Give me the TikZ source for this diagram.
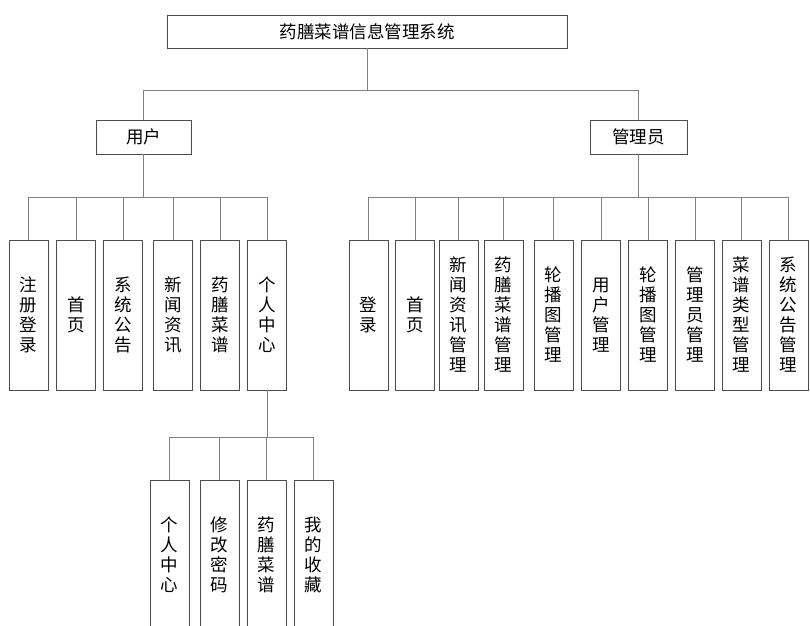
\documentclass[tikz,border=0pt]{standalone}
\usepackage{fontspec}
\setmainfont{Noto Sans CJK SC}
\usepackage{tikz}

\begin{document}
\begin{tikzpicture}[x=1pt,y=-1pt,
  box/.style={draw=black!70,fill=white,line width=.9pt,inner sep=0pt,align=center,
              font=\fontsize{17.5}{20}\selectfont},
  hbox/.style={box,minimum height=34pt},
  vbox/.style={box,minimum width=39pt,minimum height=150pt},
  link/.style={draw=black!50,line width=.9pt}]
  \useasboundingbox (0,0) rectangle (810,625);
  \clip (0,0) rectangle (810,625);
  % root and the two roles
  \node[hbox,minimum width=400pt,minimum height=33pt] (sys) at (367,31.5) {药膳菜谱信息管理系统};
  \node[hbox,minimum width=95pt] (user) at (143.5,137) {用户};
  \node[hbox,minimum width=97pt] (admin) at (638.5,137) {管理员};
  \coordinate (b0) at ([yshift=-42pt]sys.south);
  \draw[link] (sys) -- (b0) (b0) -| (user.north) (b0) -| (admin.north);

  % user functions
  \foreach \i/\x/\t in {1/28.5/注\\册\\登\\录, 2/76/首\\页, 3/123/系\\统\\公\\告,
                        4/173/新\\闻\\资\\讯, 5/220/药\\膳\\菜\\谱, 6/267/个\\人\\中\\心}
    \node[vbox] (u\i) at (\x,315) {\t};
  \coordinate (ub) at ([yshift=-43pt]user.south);
  \draw[link] (user) -- (ub);
  \foreach \i in {1,...,6} \draw[link] (ub) -| (u\i.north);

  % admin functions
  \foreach \i/\x/\t in {1/368.5/登\\录, 2/415/首\\页, 3/458.5/新\\闻\\资\\讯\\管\\理,
                        4/503.5/药\\膳\\菜\\谱\\管\\理, 5/553.5/轮\\播\\图\\管\\理,
                        6/601/用\\户\\管\\理, 7/648/轮\\播\\图\\管\\理,
                        8/695/管\\理\\员\\管\\理, 9/741.5/菜\\谱\\类\\型\\管\\理,
                        10/788.5/系\\统\\公\\告\\管\\理}
    \node[vbox] (a\i) at (\x,315) {\t};
  \coordinate (ab) at ([yshift=-43pt]admin.south);
  \draw[link] (admin) -- (ab);
  \foreach \i in {1,...,10} \draw[link] (ab) -| (a\i.north);

  % personal centre
  \foreach \i/\x/\t in {1/169.5/个\\人\\中\\心, 2/219.5/修\\改\\密\\码,
                        3/266.5/药\\膳\\菜\\谱, 4/313.5/我\\的\\收\\藏}
    \node[vbox] (p\i) at (\x,555) {\t};
  \coordinate (pb) at ([yshift=-47pt]u6.south);
  \draw[link] (u6) -- (pb);
  \foreach \i in {1,...,4} \draw[link] (pb) -| (p\i.north);
\end{tikzpicture}
\end{document}
